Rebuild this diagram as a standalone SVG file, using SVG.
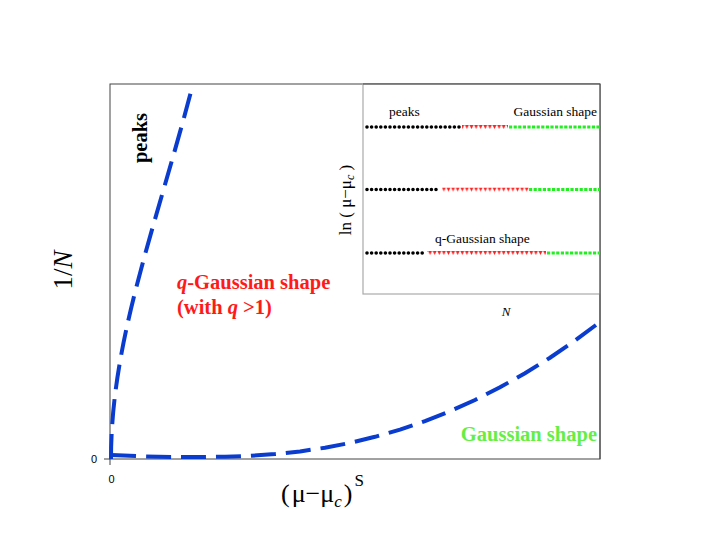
<svg xmlns="http://www.w3.org/2000/svg" width="708" height="560" viewBox="0 0 708 560">
<style>
.serif{font-family:"Liberation Serif","Times New Roman",serif}
.sans{font-family:"Liberation Sans",Arial,sans-serif}
.lbl{font-family:"Liberation Serif","Times New Roman",serif;font-weight:bold;font-size:20.5px}
.small{font-family:"Liberation Serif","Times New Roman",serif;font-size:13.5px;fill:#000}
.curve{fill:none;stroke:#0a3ccf;stroke-width:4;stroke-dasharray:25 10}
.blk{stroke:#000;stroke-width:3.6;stroke-linecap:round;stroke-dasharray:0 4.6}
.grn{stroke:#22ee22;stroke-width:3.2;stroke-dasharray:3.2 1.4}
</style>
<defs>
<pattern id="tri" patternUnits="userSpaceOnUse" x="0" y="-2" width="4.6" height="10">
<polygon points="0.3,0 4.3,0 2.3,4" fill="#ff2222"/>
</pattern>
</defs>
<rect width="708" height="560" fill="#fff"/>
<g id="main-axes">
<rect x="110" y="84" width="490" height="375" fill="none" stroke="#444" stroke-width="1"/>
<line x1="104" y1="459" x2="110" y2="459" stroke="#444"/>
<line x1="110" y1="459" x2="110" y2="465" stroke="#444"/>
<text class="sans" x="97" y="463" font-size="11" text-anchor="end">0</text>
<text class="sans" x="111.5" y="483" font-size="11" text-anchor="middle">0</text>
<text class="serif" x="62" y="270" font-size="27" text-anchor="middle" transform="rotate(-90 62 270)" dy="10">1/<tspan font-style="italic">N</tspan></text>
<text class="serif" x="281" y="502" font-size="26">(<tspan dx="2">μ−μ</tspan><tspan font-size="17" font-style="italic" dy="5">c</tspan><tspan dy="-5" dx="2">)</tspan><tspan font-size="17" dy="-16" dx="2">S</tspan></text>
</g>
<g id="connectors">
<path class="curve" d="M111,459 C111,340 155,230 193,84"/>
<path class="curve" d="M111,455 Q160,457.5 200,457 L225,456.8 L250,455.9 L275,454.1 L300,451.4 L325,447.7 L350,442.9 L375,436.8 L400,429.6 L425,421.1 L450,411.2 L475,400 L500,387.3 L525,373.2 L550,357.7 L575,340.6 L600,322"/>
</g>
<g id="label-peaks">
<text class="lbl" x="147" y="138" text-anchor="middle" transform="rotate(-90 147 138)">peaks</text>
</g>
<g id="label-qgaussian">
<text class="lbl" x="177" y="289" fill="#ff1a1a"><tspan font-style="italic">q</tspan>-Gaussian shape</text>
<text class="lbl" x="177" y="314" fill="#ff1a1a">(with <tspan font-style="italic">q</tspan> &gt;1)</text>
</g>
<g id="label-gaussian">
<text class="lbl" x="597" y="441" fill="#66ee44" text-anchor="end">Gaussian shape</text>
</g>
<g id="inset">
<rect x="363" y="84" width="237" height="210" fill="#fff" stroke="#aaa" stroke-width="1.2"/>
<line x1="600" y1="84" x2="600" y2="459" stroke="#444"/>
<line x1="363" y1="84" x2="600" y2="84" stroke="#444"/>
<text class="small" x="389" y="116">peaks</text>
<text class="small" x="597" y="116" text-anchor="end">Gaussian shape</text>
<text class="small" x="435" y="243">q-Gaussian shape</text>
<text class="serif" x="351" y="200" font-size="17" text-anchor="middle" transform="rotate(-90 351 200)">ln ( μ−μ<tspan font-size="12" font-style="italic" dy="3">c</tspan><tspan dy="-3"> )</tspan></text>
<text class="serif" x="506" y="316" font-size="13" font-style="italic" text-anchor="middle">N</text>
<g transform="translate(0,127)">
<line class="blk" x1="367" y1="0" x2="460" y2="0"/>
<rect x="462" y="-2" width="46" height="5" fill="url(#tri)"/>
<line class="grn" x1="509" y1="0" x2="600" y2="0"/>
</g>
<g transform="translate(0,189.5)">
<line class="blk" x1="367" y1="0" x2="440" y2="0"/>
<rect x="442" y="-2" width="87" height="5" fill="url(#tri)"/>
<line class="grn" x1="529" y1="0" x2="600" y2="0"/>
</g>
<g transform="translate(0,253)">
<line class="blk" x1="367" y1="0" x2="425" y2="0"/>
<rect x="427" y="-2" width="119" height="5" fill="url(#tri)"/>
<line class="grn" x1="547" y1="0" x2="600" y2="0"/>
</g>
</g>
</svg>
